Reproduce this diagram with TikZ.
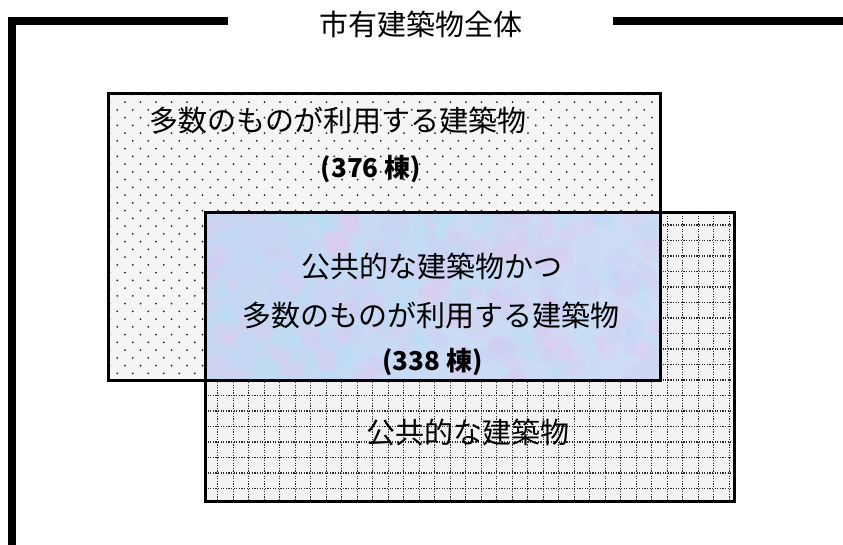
\documentclass[tikz,border=0pt]{standalone}
\usepackage{fontspec}
\newfontfamily\jp{Noto Sans CJK JP}
\definecolor{dotc}{HTML}{222222}
\definecolor{gridc}{HTML}{2A2A2A}
\definecolor{boxbg}{HTML}{F5F5F5}
\definecolor{gridbg}{HTML}{F2F2F2}
\definecolor{blueA}{HTML}{C4D8F3}
\definecolor{blueB}{HTML}{CFDDF5}
\definecolor{tex0}{HTML}{E4C8EE}
\definecolor{tex1}{HTML}{B8E2F5}
\definecolor{tex2}{HTML}{CFCCF4}
\tikzset{
  frameline/.style={line width=8pt, line join=miter},
  boxborder/.style={line width=3pt, draw=black},
  gridline/.style={gridc, line width=1.4pt, dash pattern=on 1.2pt off 1.4pt},
  jptext/.style={font=\jp\fontsize{29}{34}\selectfont, anchor=base, inner sep=0pt},
  numtext/.style={font=\jp\bfseries\fontsize{26}{30}\selectfont, anchor=base, inner sep=0pt}
}
\begin{document}
\begin{tikzpicture}[x=1pt,y=-1pt]
\useasboundingbox (0,0) rectangle (843,545);
\fill[white] (0,0) rectangle (843,545);
% outer frame
\coordinate (fb) at (12,545);
\coordinate (fc) at (12,21);
\coordinate (fl) at (228,21);
\coordinate (fr1) at (613,21);
\coordinate (fr2) at (843,21);
\draw[frameline] (fb) -- (fc) -- (fl);
\draw[frameline] (fr1) -- (fr2);
\node[jptext] (title) at (421,35.5) {市有建築物全体};
% box 1 : dotted
\coordinate (b1a) at (108.5,93.5);
\coordinate (b1b) at (660,380.5);
\fill[boxbg] (b1a) rectangle (b1b);
\begin{scope}
\clip (b1a) rectangle (b1b);
\foreach \j in {-31,...,6}{
  \pgfmathsetmacro\yy{334.7+7.75*\j}
  \pgfmathsetmacro\xo{mod(\j+40,2)==1 ? 117.25 : 125}
  \foreach \i in {-1,...,35}{
    \fill[dotc] (\xo+15.5*\i,\yy) circle (1pt);
  }
}
\end{scope}
% box 2 : grid
\coordinate (b2a) at (205,213);
\coordinate (b2b) at (734.7,501.7);
\fill[gridbg] (b2a) rectangle (b2b);
\begin{scope}
\clip (b2a) rectangle (b2b);
\foreach \k in {0,...,18}{
  \draw[gridline] (205,225+15.5*\k) -- (735,225+15.5*\k);
}
\foreach \k in {-1,...,34}{
  \draw[gridline] (217.7+15.5*\k,213) -- (217.7+15.5*\k,502);
}
\end{scope}
% box 3 : blue textured
\coordinate (b3a) at (205,212.7);
\coordinate (b3b) at (660,380.5);
\shade[left color=blueA, right color=blueB] (b3a) rectangle (b3b);
\begin{scope}
\clip (b3a) rectangle (b3b);
\pgfmathsetseed{11}
\foreach \n in {1,...,360}{
  \pgfmathsetmacro\px{200+rnd*465}
  \pgfmathsetmacro\py{208+rnd*178}
  \pgfmathsetmacro\rr{4+rnd*11}
  \pgfmathtruncatemacro\cc{mod(\n,3)}
  \fill[tex\cc, opacity=0.3] (\px,\py) circle (\rr pt);
}
\end{scope}
% borders
\draw[boxborder] (b1a) rectangle (b1b);
\draw[boxborder] (b2a) rectangle (b2b);
\draw[boxborder] (b3a) rectangle (b3b);
% texts
\node[jptext] (t1) at (337.5,132) {多数のものが利用する建築物};
\node[numtext] (n1) at (371,178) {(376 棟)};
\node[jptext] (t2) at (432,277) {公共的な建築物かつ};
\node[jptext] (t3) at (430.5,326) {多数のものが利用する建築物};
\node[numtext] (n2) at (432.5,370) {(338 棟)};
\node[jptext] (t4) at (467.5,443) {公共的な建築物};
\end{tikzpicture}
\end{document}
